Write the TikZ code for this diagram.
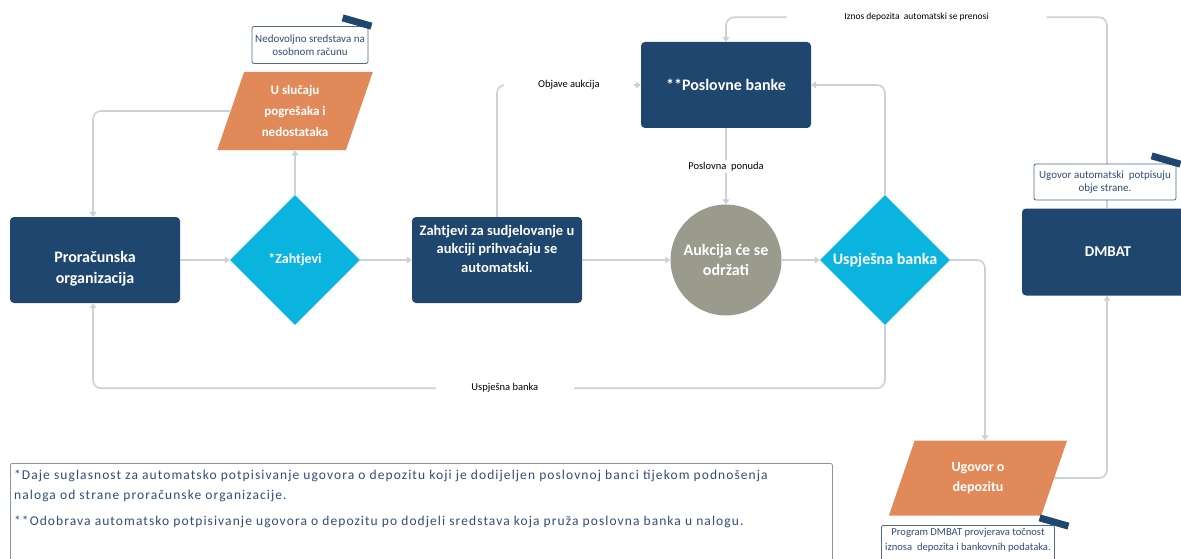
\documentclass[tikz,border=0pt]{standalone}
\usepackage{fontspec}
\setmainfont{Carlito}
\usetikzlibrary{shapes.geometric,arrows.meta,positioning,calc}
\definecolor{navy}{HTML}{1F466F}
\definecolor{aqua}{HTML}{0BB4DF}
\definecolor{peach}{HTML}{E2895A}
\definecolor{stone}{HTML}{9A9B8D}
\definecolor{wire}{HTML}{CDD0D8}
\definecolor{ink}{HTML}{2F4D7A}
\begin{document}
\begin{tikzpicture}[x=1pt,y=-1pt,
    box/.style={fill=navy,rounded corners=4pt,text=white,align=center,inner sep=0pt},
    rhomb/.style={diamond,fill=aqua,text=white,inner sep=0pt,minimum width=130pt,minimum height=130pt},
    para/.style={trapezium,trapezium left angle=71,trapezium right angle=109,fill=peach,text=white,align=center,inner sep=0pt},
    note/.style={draw=ink!85,fill=white,line width=0.8pt,rounded corners=2pt,text=ink,align=center,inner sep=0pt,font=\fontsize{11}{13}\selectfont},
    tab/.style={fill=navy,minimum width=30pt,minimum height=7pt,inner sep=0pt,rotate=-16},
    link/.style={draw=wire,line width=1.6pt,rounded corners=8pt,-{Triangle[width=7pt,length=5pt]}},
    lbl/.style={fill=white,text=black,inner sep=2pt,font=\fontsize{10.5}{12}\selectfont}]
    \useasboundingbox (0,0) rectangle (1181,559);
    % shapes
    \node[box,minimum width=170pt,minimum height=86pt,font=\fontsize{16}{21}\selectfont\bfseries] (proracun) at (95,260) {\\[8pt]Proračunska\\organizacija};
    \node[rhomb,font=\fontsize{14}{18}\selectfont\bfseries] (zahtjevi) at (295,260) {\makebox[0pt]{*Zahtjevi}};
    \node[para,minimum width=156pt,minimum height=77pt,font=\fontsize{13}{21}\selectfont\bfseries] (slucaj) at (295,111) {U slučaju\\pogrešaka i\\nedostataka};
    \node[box,minimum width=170pt,minimum height=86pt,font=\fontsize{14.5}{18.5}\selectfont\bfseries] (sudj) at (497,260) {Zahtjevi za sudjelovanje u\\aukciji prihvaćaju se\\automatski.\\[4pt]};
    \node[box,minimum width=170pt,minimum height=86pt,font=\fontsize{16}{21}\selectfont\bfseries] (banke) at (726,85) {**Poslovne banke};
    \node[circle,fill=stone,text=white,minimum size=111pt,inner sep=0pt,align=center,font=\fontsize{16}{20}\selectfont\bfseries] (aukcija) at (726,260) {Aukcija će se\\održati};
    \node[rhomb,font=\fontsize{16}{20}\selectfont\bfseries] (uspjesna) at (885,260) {\makebox[0pt]{Uspješna banka}};
    \node[box,minimum width=172pt,minimum height=87pt,font=\fontsize{15}{18}\selectfont\bfseries] (dmbat) at (1108,252) {DMBAT};
    \node[para,minimum width=147pt,minimum height=75pt,font=\fontsize{14}{20}\selectfont\bfseries] (depozit) at (978,478) {Ugovor o\\depozitu};
    % connectors
    \draw[link] (proracun.east) -- (zahtjevi.west);
    \draw[link] (zahtjevi.east) -- (sudj.west);
    \draw[link] (zahtjevi.north) -- (slucaj.south);
    \draw[link] (slucaj.west) -| ($(proracun.north)+(-2,0)$);
    \draw[link] (sudj.north) |- node[lbl,pos=0.75,minimum width=130pt] {Objave aukcija} (banke.west);
    \draw[link] (banke.south) -- node[lbl,minimum width=90pt] {Poslovna\ \ ponuda} (aukcija.north);
    \draw[link] (sudj.east) -- (aukcija.west);
    \draw[link] (aukcija.east) -- (uspjesna.west);
    \draw[link] (uspjesna.north) |- (banke.east);
    \draw[link] (uspjesna.south) -- ++(0,63) -| node[lbl,pos=0.24,minimum width=138pt] {Uspješna banka} ($(proracun.south)+(-2,0)$);
    \draw[link] (uspjesna.east) -| ($(depozit.north)+(7,0)$);
    \draw[link] (depozit.east) -| ($(dmbat.south)+(-1,0)$);
    \draw[link] ($(dmbat.north)+(-1,0)$) -- ++(0,-191) -| node[lbl,pos=0.25,minimum width=260pt,font=\fontsize{9.5}{12}\selectfont] {Iznos depozita\ \ automatski se prenosi} (banke.north);
    % notes
    \node[note,minimum width=116pt,minimum height=37pt] (n1) at (310,45) {Nedovoljno sredstava na\\osobnom računu};
    \node[tab] (t1) at (357,22) {};
    \node[note,minimum width=142pt,minimum height=36pt] (n2) at (1105,182) {Ugovor automatski\ \ potpisuju\\obje strane.};
    \node[tab] (t2) at (1166,160) {};
    \node[note,minimum width=173pt,inner ysep=3pt,anchor=north,font=\fontsize{10.6}{15}\selectfont] (n3) at (968,525) {Program DMBAT provjerava točnost\\iznosa\ \ depozita\ i\ bankovnih podataka.\\[10pt]};
    \node[tab] (t3) at (1054,522) {};
    % legend
    \node[draw=ink!60,line width=0.8pt,rounded corners=2pt,minimum width=822pt,minimum height=110pt,anchor=north west] (legenda) at (10,463) {};
    \node[anchor=north west,align=left,text=ink,inner sep=0pt,font=\fontsize{13.5}{20}\selectfont\addfontfeature{LetterSpace=8}] (legtext) at (14,470) {*Daje suglasnost za automatsko potpisivanje ugovora o depozitu koji je dodijeljen poslovnoj banci tijekom podnošenja\\naloga od strane proračunske organizacije.\\[6pt]**Odobrava automatsko potpisivanje ugovora o depozitu po dodjeli sredstava koja pruža poslovna banka u nalogu.};
\end{tikzpicture}
\end{document}
